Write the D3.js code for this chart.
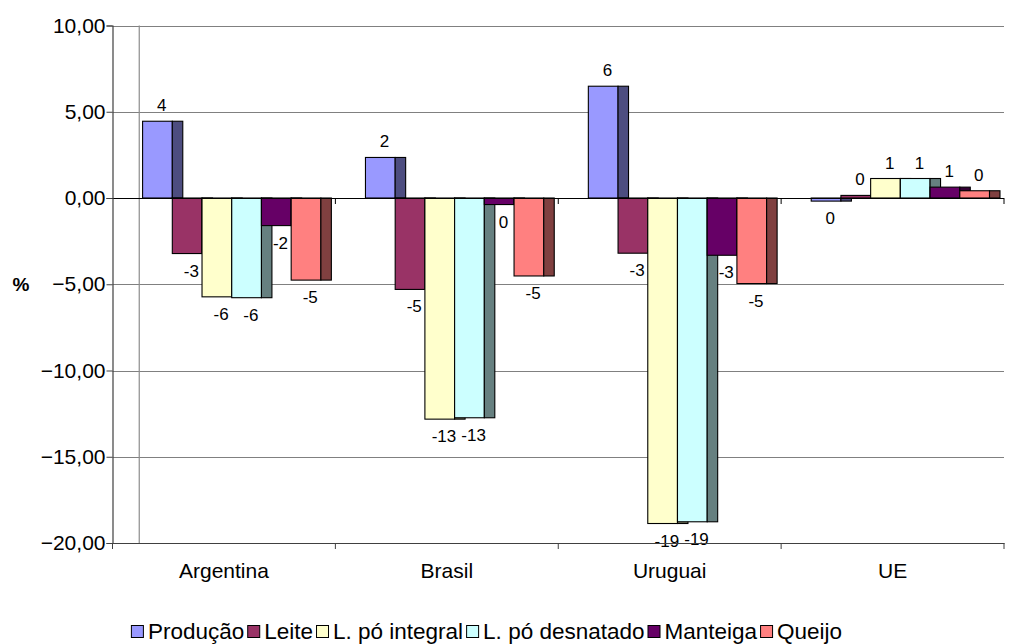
<!DOCTYPE html>
<html>
<head>
<meta charset="utf-8">
<script src="https://cdn.jsdelivr.net/npm/d3@7"></script>
<style>
html,body{margin:0;padding:0;background:#fff;}
text{font-family:"Liberation Sans",Arial,sans-serif;}
</style>
</head>
<body>
<svg id="chart" width="1016" height="644"></svg>
<script>
const categories = ["Argentina", "Brasil", "Uruguai", "UE"];
const seriesNames = ["Produção", "Leite", "L. pó integral", "L. pó desnatado", "Manteiga", "Queijo"];
const producao = [4.45, 2.35, 6.48, -0.18];
const leite = [-3.22, -5.30, -3.20, 0.15];
const poIntegral = [-5.73, -12.82, -18.87, 1.13];
const poDesnatado = [-5.78, -12.74, -18.77, 1.13];
const manteiga = [-1.60, -0.38, -3.32, 0.63];
const queijo = [-4.76, -4.52, -4.96, 0.42];
const yTicks = [10, 5, 0, -5, -10, -15, -20];
const seriesColors = ["#9999FF", "#993366", "#FFFFCC", "#CCFFFF", "#660066", "#FF8080"];

const seriesValues = [producao, leite, poIntegral, poDesnatado, manteiga, queijo];

const svg = d3.select("#chart");
const pLeft = 112.5, pRight = 1004, pTop = 25.5, pBottom = 543;
const FONT = "Liberation Sans, Arial, sans-serif";

const y = d3.scaleLinear().domain([-20, 10]).range([pBottom, pTop]);
const x0 = d3.scaleBand().domain(categories).range([pLeft, pRight]).padding(0);
const bw = x0.bandwidth();
const x1 = d3.scaleBand().domain(seriesNames).range([bw * 0.135, bw * 0.935]).padding(0);
const depth = bw * 0.047;

// gridlines
const g = svg.append("g");
g.selectAll("line.grid").data(yTicks.filter(t => t !== 0 && t !== -20)).enter()
  .append("line")
  .attr("x1", pLeft).attr("x2", pRight)
  .attr("y1", d => Math.round(y(d)) + 0.5).attr("y2", d => Math.round(y(d)) + 0.5)
  .attr("stroke", "#808080").attr("stroke-width", 1);

// back wall vertical edge
g.append("line")
  .attr("x1", pLeft + bw * 0.12).attr("x2", pLeft + bw * 0.12)
  .attr("y1", pTop).attr("y2", pBottom)
  .attr("stroke", "#8c8c8c").attr("stroke-width", 1.2);

// bars
const barsG = svg.append("g");
categories.forEach((c, ci) => {
  seriesNames.forEach((s, si) => {
    const v = seriesValues[si][ci];
    const xf = x0(c) + x1(s);
    const w = x1.bandwidth();
    const y0 = y(0), yv = y(v);
    const yt = Math.min(y0, yv), h = Math.max(Math.abs(yv - y0), 0.8);
    const col = d3.rgb(seriesColors[si]);
    const dark = d3.rgb(col.r * 0.5, col.g * 0.5, col.b * 0.5);
    barsG.append("rect")
      .attr("x", xf).attr("y", yt).attr("width", w).attr("height", h)
      .attr("fill", seriesColors[si]).attr("stroke", "#000").attr("stroke-width", 1.1);
    barsG.append("rect")
      .attr("x", xf + w).attr("y", yt).attr("width", depth).attr("height", h)
      .attr("fill", dark).attr("stroke", "#000").attr("stroke-width", 1.1);
  });
});

// zero line
svg.append("line")
  .attr("x1", pLeft - 6).attr("x2", pRight)
  .attr("y1", Math.round(y(0)) + 0.5).attr("y2", Math.round(y(0)) + 0.5)
  .attr("stroke", "#000").attr("stroke-width", 1);
// ticks on zero line at category boundaries
svg.selectAll("line.zt").data(categories).enter().append("line")
  .attr("x1", d => x0(d) + bw).attr("x2", d => x0(d) + bw)
  .attr("y1", y(0)).attr("y2", y(0) + 6)
  .attr("stroke", "#000").attr("stroke-width", 1);

// data labels
const labG = svg.append("g");
categories.forEach((c, ci) => {
  seriesNames.forEach((s, si) => {
    const v = seriesValues[si][ci];
    const r = Math.round(Math.abs(v)) * Math.sign(v);
    const xc = x0(c) + x1(s) + x1.bandwidth() / 2 + depth * 0.4;
    labG.append("text")
      .attr("x", xc)
      .attr("y", v >= 0 ? y(v) - 10 : y(v) + 23)
      .attr("text-anchor", "middle")
      .attr("font-size", 17)
      .attr("fill", "#000")
      .text(String(Math.abs(r) === 0 ? 0 : r));
  });
});

// y axis
const yAxis = d3.axisLeft(y).tickValues(yTicks).tickSize(6).tickPadding(1)
  .tickFormat(d => d3.format(".2f")(d).replace(".", ","));
const ya = svg.append("g").attr("transform", `translate(${pLeft},0)`).call(yAxis);
ya.attr("font-family", FONT).attr("font-size", 21);
ya.select(".domain").attr("stroke", "#404040").attr("stroke-width", 1.2);
ya.selectAll(".tick line").attr("stroke", "#404040");
ya.selectAll(".tick text").attr("fill", "#000");

// x axis at bottom
const xAxis = d3.axisBottom(x0).tickSize(0).tickPadding(22);
const xa = svg.append("g").attr("transform", `translate(0,${pBottom})`).call(xAxis);
xa.attr("font-family", FONT).attr("font-size", 21);
xa.select(".domain").attr("stroke", "#404040").attr("stroke-width", 1.2);
xa.selectAll(".tick text").attr("fill", "#000").attr("dy", "0.6em");
xa.selectAll("line.bt").data([pLeft].concat(categories.map(c => x0(c) + bw))).enter().append("line")
  .attr("x1", d => d).attr("x2", d => d).attr("y1", 0).attr("y2", 6)
  .attr("stroke", "#404040").attr("stroke-width", 1);

// axis title
svg.append("text").attr("x", 21).attr("y", y(-5) + 7)
  .attr("text-anchor", "middle")
  .attr("font-family", "Liberation Serif, Times New Roman, serif")
  .attr("font-weight", "bold").attr("font-size", 19).text("%");

// legend
const leg = svg.append("g");
let cx = 0;
seriesNames.forEach((s, i) => {
  const it = leg.append("g").attr("transform", `translate(${cx},0)`);
  it.append("rect").attr("x", 0.5).attr("y", -13.5).attr("width", 12).attr("height", 12)
    .attr("fill", seriesColors[i]).attr("stroke", "#000").attr("stroke-width", 1);
  const t = it.append("text").attr("x", 17).attr("y", 0).attr("font-size", 22.5).text(s);
  const tw = t.node().getComputedTextLength();
  cx += 17 + tw + 3;
});
leg.attr("transform", `translate(${488 - cx / 2},639)`);
</script>
</body>
</html>
